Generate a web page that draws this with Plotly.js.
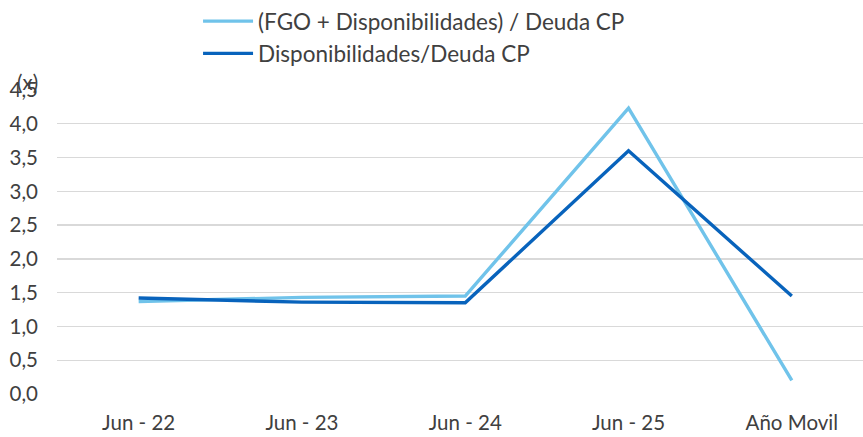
<!DOCTYPE html>
<html>
<head>
<meta charset="utf-8">
<script src="https://cdn.plot.ly/plotly-3.0.1.min.js"></script>
<style>html,body{margin:0;padding:0;background:#fff;}</style>
</head>
<body>
<div id="chart" style="width:863px;height:437px;"></div>
<script>
const categories = ["Jun - 22", "Jun - 23", "Jun - 24", "Jun - 25", "Año Movil"];
const fgoDisp = [1.37, 1.43, 1.45, 4.23, 0.2];
const disp = [1.42, 1.36, 1.35, 3.6, 1.45];
const seriesNames = ["(FGO + Disponibilidades) / Deuda CP", "Disponibilidades/Deuda CP"];

const font = "Lato, 'Open Sans', sans-serif";
const fs = 20.5;
const traces = [
  {x: categories, y: fgoDisp, name: seriesNames[0], type: "scatter", mode: "lines",
   line: {color: "#70C3EA", width: 3.4}},
  {x: categories, y: disp, name: seriesNames[1], type: "scatter", mode: "lines",
   line: {color: "#0863BC", width: 3.4}}
];
const layout = {
  width: 863, height: 437,
  margin: {l: 57, r: 0, t: 90, b: 43, autoexpand: false},
  paper_bgcolor: "#fff", plot_bgcolor: "#fff",
  separators: ",.",
  font: {family: font, size: fs, color: "#404040"},
  showlegend: true,
  legend: {orientation: "v", x: 0.175, xanchor: "left", y: 1.015, yanchor: "top", yref: "container",
           font: {family: font, size: 22.5, color: "#404040"}, tracegroupgap: 0, itemwidth: 50,
           bgcolor: "rgba(0,0,0,0)"},
  xaxis: {type: "category", range: [-0.5, 4.436], showgrid: false, zeroline: false, showline: false,
          ticks: "", ticklabelstandoff: 14, tickfont: {size: fs, color: "#404040"}},
  yaxis: {range: [0, 4.5], dtick: 0.5, tickformat: ".1f", showgrid: true, gridcolor: "#D9D9D9",
          gridwidth: 1.3, zeroline: false, showline: false, ticks: "", ticklabelstandoff: 18,
          tickfont: {size: fs, color: "#404040"}},
  annotations: [{text: "(x)", xref: "paper", yref: "paper", x: -0.036, y: 1.0, xanchor: "center",
                 yanchor: "bottom", yshift: -6, showarrow: false, font: {size: fs, color: "#404040"}}]
};
Plotly.newPlot("chart", traces, layout, {displayModeBar: false, staticPlot: true});
</script>
</body>
</html>
